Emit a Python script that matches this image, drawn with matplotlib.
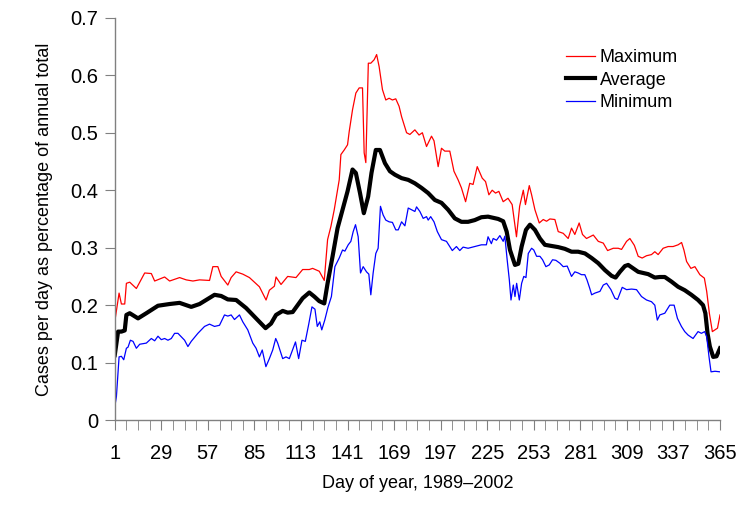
import numpy as np
import matplotlib.pyplot as plt
from matplotlib.ticker import MultipleLocator, FixedLocator, FuncFormatter

plt.rcParams['font.family'] = ['Liberation Sans', 'DejaVu Sans']

# Maximum (red)
max_days = [1, 3.6, 5, 7, 8, 10, 14, 19, 23, 25, 31, 34, 40, 44, 48, 52, 58, 60, 63, 65, 69, 71, 74, 78, 82, 88,
            92, 94, 97, 98, 101, 105, 110, 114, 118, 120, 124, 127, 129, 131, 133, 136, 137, 139, 141, 142, 144,
            146, 148, 150, 151, 152, 153.5, 155, 157, 158.5, 160, 162, 164, 166, 168, 170, 172, 173.5, 176.5,
            178.5, 181.5, 184, 186, 188.5, 191.5, 193, 195.5, 197.5, 199.5, 202.5, 205, 207.5, 209.5, 212,
            214.5, 216.5, 219, 222, 224, 226, 228, 230, 232, 234.6, 237.5, 240, 242.6, 244.5, 246.7, 248,
            250.3, 251.7, 253.7, 256.3, 258.7, 260.7, 262.7, 265.7, 267.7, 270.7, 273.7, 275.7, 277.7, 280.3,
            282.3, 284.7, 286.8, 288.8, 291.8, 294.8, 297.4, 300.8, 303.8, 305.8, 308.8, 310.8, 313.5, 315.8,
            318.2, 320.8, 323.8, 325.8, 327.8, 330.8, 333.8, 336.8, 339.8, 341.9, 343.3, 344.9, 347.5, 349.9,
            352.9, 355.6, 357, 358.6, 360.4, 362, 363.5, 365]
max_vals = [0.171, 0.221, 0.202, 0.202, 0.238, 0.240, 0.229, 0.256, 0.255, 0.242, 0.249, 0.242, 0.248, 0.244,
            0.242, 0.244, 0.243, 0.267, 0.267, 0.250, 0.235, 0.248, 0.258, 0.254, 0.248, 0.232, 0.209, 0.226,
            0.233, 0.249, 0.236, 0.250, 0.248, 0.262, 0.262, 0.264, 0.259, 0.243, 0.314, 0.337, 0.366, 0.418,
            0.462, 0.470, 0.479, 0.502, 0.540, 0.569, 0.578, 0.578, 0.465, 0.448, 0.621, 0.621, 0.627, 0.636,
            0.615, 0.575, 0.557, 0.560, 0.557, 0.559, 0.546, 0.528, 0.500, 0.497, 0.505, 0.496, 0.500, 0.476,
            0.494, 0.486, 0.441, 0.473, 0.468, 0.468, 0.433, 0.418, 0.404, 0.380, 0.412, 0.410, 0.441, 0.421,
            0.415, 0.392, 0.400, 0.395, 0.398, 0.380, 0.386, 0.375, 0.319, 0.372, 0.400, 0.375, 0.408, 0.392,
            0.366, 0.343, 0.349, 0.346, 0.350, 0.349, 0.328, 0.325, 0.316, 0.334, 0.323, 0.343, 0.323, 0.316,
            0.319, 0.322, 0.311, 0.308, 0.295, 0.299, 0.299, 0.297, 0.311, 0.316, 0.304, 0.285, 0.282, 0.286,
            0.288, 0.293, 0.288, 0.299, 0.302, 0.302, 0.305, 0.309, 0.296, 0.276, 0.264, 0.267, 0.253, 0.247,
            0.224, 0.186, 0.154, 0.157, 0.160, 0.183]

# Average (black)
avg_days = [1, 3, 5, 7, 8, 10, 15, 20, 27, 34, 40, 47, 52, 61, 65, 69, 74, 80, 86, 91.7, 95, 98, 102, 105, 108,
            111, 114, 118, 121, 124, 127, 129, 132, 135, 138, 141, 144, 146, 148.5, 150.8, 153.4, 155.4, 158,
            160.5, 163.5, 166.5, 169.5, 173.5, 177.5, 181.5, 185.5, 189.5, 193.5, 197.5, 201.5, 205.5, 209.5,
            213.5, 217.5, 221.5, 225.5, 231.6, 234.6, 236.7, 238.7, 241.7, 243.7, 245.7, 248.3, 250.7, 253.7,
            256.7, 259.7, 263.7, 267.7, 271.7, 275.7, 279.7, 283.8, 287.8, 291.8, 295.8, 299.8, 302.2, 304.8,
            307.8, 309.8, 312.8, 315.8, 318.8, 321.8, 325.8, 328.8, 331.8, 335.8, 339.8, 343.8, 347.8, 351.8,
            354.8, 356.2, 357.5, 358.9, 360.9, 362.9, 365]
avg_vals = [0.113, 0.154, 0.154, 0.156, 0.183, 0.186, 0.177, 0.186, 0.199, 0.202, 0.204, 0.197, 0.202, 0.218,
            0.216, 0.210, 0.209, 0.195, 0.177, 0.160, 0.168, 0.183, 0.190, 0.187, 0.188, 0.200, 0.212, 0.222,
            0.215, 0.207, 0.203, 0.238, 0.285, 0.334, 0.366, 0.398, 0.436, 0.430, 0.395, 0.360, 0.389, 0.430,
            0.470, 0.470, 0.447, 0.433, 0.427, 0.421, 0.418, 0.412, 0.404, 0.395, 0.383, 0.378, 0.366, 0.351,
            0.345, 0.345, 0.348, 0.353, 0.354, 0.350, 0.346, 0.328, 0.296, 0.270, 0.272, 0.302, 0.331, 0.340,
            0.331, 0.316, 0.305, 0.303, 0.301, 0.298, 0.293, 0.293, 0.290, 0.282, 0.273, 0.261, 0.251, 0.248,
            0.258, 0.268, 0.270, 0.264, 0.258, 0.256, 0.254, 0.248, 0.249, 0.249, 0.241, 0.232, 0.226, 0.218,
            0.209, 0.200, 0.186, 0.151, 0.128, 0.110, 0.111, 0.125]

# Minimum (blue)
min_days = [1, 2, 3.6, 5, 6.4, 8, 9, 10.4, 12, 14, 16, 20, 23, 25, 27, 29, 31, 33, 35, 37, 39, 41, 43, 45, 47,
            51, 55, 58, 61, 64, 67, 69, 71, 73, 76, 78, 81, 84, 86, 88, 89.7, 91.9, 94, 96, 97.8, 99, 102, 104,
            106, 109.7, 111.6, 113.6, 115.6, 117.6, 119.6, 121.4, 122.8, 124.3, 125.5, 127.3, 129.3, 131.3,
            133.4, 136, 138, 139.4, 141.4, 143, 144.4, 145.8, 147.4, 148.8, 150.4, 152.4, 153.8, 155, 156.4,
            158, 159.4, 160.8, 162.4, 164, 166, 168, 170, 171.5, 173.5, 175.5, 177.5, 179.5, 181.5, 182.5,
            184.5, 186.5, 188.5, 189.5, 191, 193, 195, 197.5, 200.5, 202.5, 204, 206.5, 208.5, 210.5, 213.5,
            217.5, 221.5, 224.5, 225.5, 227.5, 228.6, 230.6, 232.6, 234.6, 235.6, 237, 238.3, 239.3, 240.7,
            241.7, 242.7, 244.3, 245.7, 247, 248.3, 249.7, 251.7, 253, 254.7, 256.7, 258.3, 260.3, 262.3,
            264.3, 266.3, 268.7, 270.7, 273.1, 275.7, 277.7, 279.7, 281.7, 283.7, 285, 286.7, 287.8, 289.8,
            292.8, 294.8, 296.8, 299.4, 301.8, 303.4, 306.2, 308.8, 311.8, 314.8, 317.8, 320.8, 323.8, 325.8,
            327.3, 328.8, 331.8, 334.8, 337.4, 339.4, 341.8, 343.8, 345.8, 348.8, 351.8, 353.8, 355.8, 357,
            358.4, 359.6, 362, 365]
min_vals = [0.023, 0.041, 0.110, 0.111, 0.105, 0.125, 0.127, 0.139, 0.137, 0.125, 0.132, 0.134, 0.142, 0.138,
            0.146, 0.140, 0.142, 0.139, 0.142, 0.151, 0.151, 0.145, 0.139, 0.128, 0.137, 0.151, 0.163, 0.167,
            0.163, 0.165, 0.183, 0.181, 0.183, 0.175, 0.183, 0.171, 0.157, 0.134, 0.125, 0.110, 0.122, 0.093,
            0.107, 0.122, 0.142, 0.134, 0.107, 0.110, 0.107, 0.136, 0.107, 0.139, 0.137, 0.166, 0.197, 0.193,
            0.163, 0.171, 0.157, 0.174, 0.197, 0.215, 0.267, 0.282, 0.296, 0.294, 0.305, 0.311, 0.328, 0.340,
            0.319, 0.256, 0.267, 0.258, 0.254, 0.218, 0.256, 0.290, 0.299, 0.372, 0.357, 0.348, 0.345, 0.344,
            0.331, 0.331, 0.345, 0.338, 0.369, 0.366, 0.363, 0.371, 0.363, 0.351, 0.354, 0.348, 0.354, 0.345,
            0.328, 0.314, 0.311, 0.302, 0.295, 0.302, 0.295, 0.301, 0.299, 0.302, 0.305, 0.305, 0.319, 0.307,
            0.316, 0.313, 0.321, 0.311, 0.320, 0.279, 0.244, 0.209, 0.235, 0.215, 0.238, 0.209, 0.238, 0.250,
            0.248, 0.290, 0.299, 0.296, 0.285, 0.285, 0.279, 0.267, 0.270, 0.279, 0.278, 0.273, 0.267, 0.268,
            0.250, 0.258, 0.256, 0.253, 0.253, 0.244, 0.229, 0.218, 0.221, 0.224, 0.235, 0.238, 0.227, 0.212,
            0.210, 0.231, 0.227, 0.228, 0.227, 0.215, 0.209, 0.206, 0.200, 0.174, 0.183, 0.186, 0.200, 0.200,
            0.177, 0.163, 0.154, 0.148, 0.142, 0.154, 0.151, 0.154, 0.145, 0.110, 0.084, 0.085, 0.084]

xtick_labels = [1, 29, 57, 85, 113, 141, 169, 197, 225, 253, 281, 309, 337, 365]

fig = plt.figure(figsize=(7.5, 5.08), dpi=100)
ax = fig.add_axes([0.153, 0.173, 0.807, 0.792])

ax.plot(max_days, max_vals, color='#ff0000', lw=0.9, label='Maximum')
ax.plot(avg_days, avg_vals, color='black', lw=3.0, label='Average')
ax.plot(min_days, min_vals, color='#0000ff', lw=0.9, label='Minimum')

ax.set_xlim(1, 365)
ax.set_ylim(0, 0.7)
ax.xaxis.set_major_locator(FixedLocator(xtick_labels))
ax.xaxis.set_minor_locator(FixedLocator(np.arange(1, 366, 7)))
ax.yaxis.set_major_locator(MultipleLocator(0.1))
ax.yaxis.set_major_formatter(FuncFormatter(lambda v, p: '0' if abs(v) < 1e-9 else f'{v:.1f}'))

for s in ['top', 'right']:
    ax.spines[s].set_visible(False)
for s in ['left', 'bottom']:
    ax.spines[s].set_color('#808080')
    ax.spines[s].set_linewidth(1.0)

ax.tick_params(axis='x', which='major', length=7, color='#808080', labelsize=14.5, pad=10)
ax.tick_params(axis='x', which='minor', length=7, color='#808080')
ax.tick_params(axis='y', which='major', length=7, color='#808080', labelsize=14.5, pad=5)

ax.set_xlabel('Day of year, 1989\u20132002', fontsize=13, labelpad=9)
ax.set_ylabel('Cases per day as percentage of annual total', fontsize=13, labelpad=12)

ax.legend(loc='upper left', bbox_to_anchor=(0.733, 0.94), frameon=False, fontsize=13,
          handlelength=1.6, handletextpad=0.3, labelspacing=0.3, borderaxespad=0)

fig.savefig('out.png', dpi=100)
